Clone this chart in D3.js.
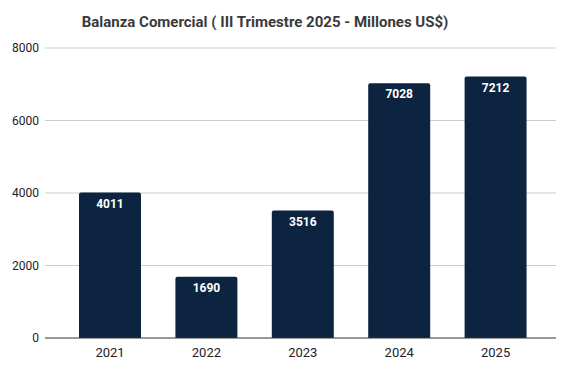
<!DOCTYPE html>
<html>
<head>
<meta charset="utf-8">
<script src="https://cdn.jsdelivr.net/npm/d3@7"></script>
<style>
  body { margin: 0; background: #fff; }
  text { font-family: Roboto, "Noto Sans", sans-serif; }
</style>
</head>
<body>
<script>
// values
const years = ["2021", "2022", "2023", "2024", "2025"];
const balance = [4011, 1690, 3516, 7028, 7212];
const yTicks = [0, 2000, 4000, 6000, 8000];

const width = 564, height = 370;

const svg = d3.select("body").append("svg")
    .attr("width", width)
    .attr("height", height);

const x = d3.scaleBand()
    .domain(years)
    .range([61.8, 543.8])
    .paddingInner(0.357)
    .paddingOuter(0.1785);

const y = d3.scaleLinear()
    .domain([0, 8000])
    .range([338, 48]);

svg.append("text")
    .attr("x", 265)
    .attr("y", 27)
    .attr("text-anchor", "middle")
    .attr("font-size", 15)
    .attr("font-weight", "bold")
    .attr("fill", "#3a3a3a")
    .text("Balanza Comercial ( III Trimestre 2025 - Millones US$)");

// gridlines
svg.append("g")
    .selectAll("line")
    .data(yTicks.filter(d => d > 0))
    .join("line")
        .attr("x1", 45)
        .attr("x2", 556)
        .attr("y1", d => y(d))
        .attr("y2", d => y(d))
        .attr("stroke", "#cccccc")
        .attr("stroke-width", 1);

svg.append("g")
    .selectAll("text")
    .data(yTicks)
    .join("text")
        .attr("x", 39)
        .attr("y", d => y(d))
        .attr("dy", "0.35em")
        .attr("text-anchor", "end")
        .attr("font-size", 12)
        .attr("fill", "#222")
        .text(d => d);

// bars with slightly rounded tops
svg.append("g")
    .selectAll("path")
    .data(years)
    .join("path")
        .attr("fill", "#0c2440")
        .attr("d", (d, i) => {
            const x0 = x(d), w = x.bandwidth(), y0 = y(balance[i]), b = y(0), r = 2;
            return `M${x0},${b}V${y0 + r}Q${x0},${y0} ${x0 + r},${y0}H${x0 + w - r}Q${x0 + w},${y0} ${x0 + w},${y0 + r}V${b}Z`;
        });

svg.append("g")
    .selectAll("text")
    .data(years)
    .join("text")
        .attr("x", d => x(d) + x.bandwidth() / 2)
        .attr("y", (d, i) => y(balance[i]) + 15)
        .attr("text-anchor", "middle")
        .attr("font-size", 12)
        .attr("font-weight", "bold")
        .attr("fill", "#fff")
        .text((d, i) => balance[i]);

// baseline
svg.append("line")
    .attr("x1", 45)
    .attr("x2", 556)
    .attr("y1", y(0))
    .attr("y2", y(0))
    .attr("stroke", "#333")
    .attr("stroke-width", 1);

svg.append("g")
    .selectAll("text")
    .data(years)
    .join("text")
        .attr("x", d => x(d) + x.bandwidth() / 2)
        .attr("y", 357)
        .attr("text-anchor", "middle")
        .attr("font-size", 13)
        .attr("fill", "#222")
        .text(d => d);
</script>
</body>
</html>
